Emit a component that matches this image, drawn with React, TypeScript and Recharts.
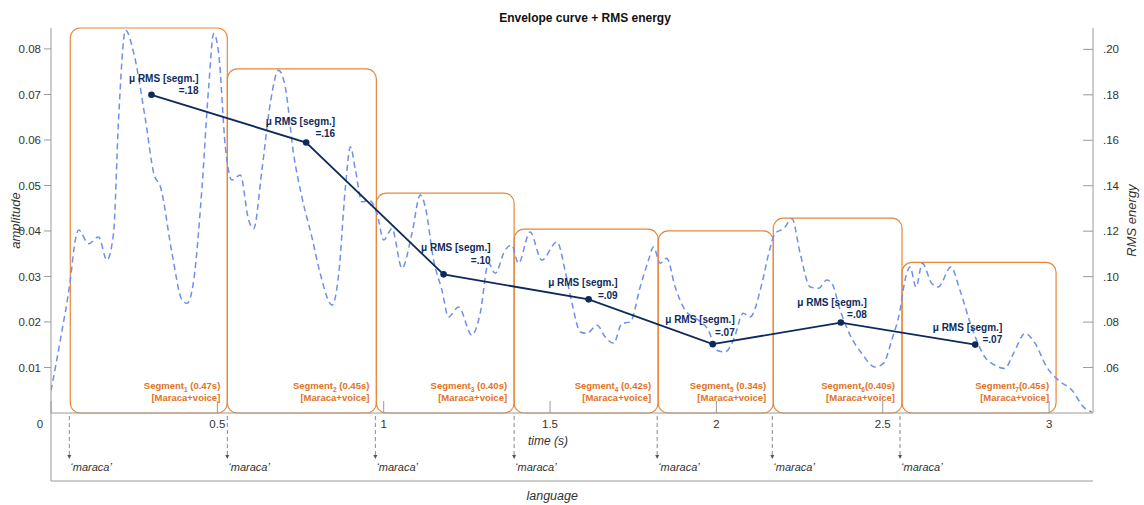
import React from 'react';
import { ComposedChart, Line, XAxis, YAxis, ReferenceArea } from 'recharts';

// ---------- data ----------
const envTime = [
  0, 0.028, 0.058, 0.073, 0.083, 0.113, 0.143, 0.168, 0.188, 0.203, 0.224, 0.249, 0.284, 0.309, 0.329,
  0.364, 0.394, 0.409, 0.429, 0.454, 0.474, 0.489, 0.504, 0.524, 0.544, 0.569, 0.594, 0.609, 0.634,
  0.659, 0.684, 0.704, 0.729, 0.754, 0.784, 0.809, 0.845, 0.865, 0.885, 0.9, 0.915, 0.935, 0.955,
  0.98, 1.0, 1.025, 1.055, 1.085, 1.11, 1.125, 1.15, 1.175, 1.195, 1.225, 1.265, 1.29, 1.315, 1.335,
  1.365, 1.385, 1.405, 1.44, 1.475, 1.521, 1.546, 1.566, 1.591, 1.611, 1.641, 1.666, 1.691, 1.716,
  1.741, 1.771, 1.796, 1.811, 1.831, 1.851, 1.876, 1.906, 1.946, 1.976, 2.001, 2.026, 2.051, 2.081,
  2.101, 2.137, 2.157, 2.177, 2.202, 2.227, 2.252, 2.282, 2.307, 2.332, 2.347, 2.372, 2.402, 2.437,
  2.477, 2.502, 2.527, 2.552, 2.567, 2.582, 2.6, 2.619, 2.647, 2.667, 2.705, 2.732, 2.767, 2.807,
  2.837, 2.867, 2.893, 2.928, 2.958, 2.993, 3.028, 3.069, 3.104, 3.129,
];
const envAmp = [
  0.0049, 0.016, 0.0292, 0.038, 0.0402, 0.0372, 0.0387, 0.0336, 0.0395, 0.0644, 0.0841, 0.079, 0.0644, 0.0526, 0.0497,
  0.035, 0.0248, 0.0241, 0.0292, 0.0497, 0.0717, 0.0834, 0.079, 0.0585, 0.0512, 0.0523, 0.0424, 0.0405, 0.0534,
  0.068, 0.0753, 0.0717, 0.057, 0.0475, 0.0387, 0.0307, 0.0237, 0.0307, 0.0497, 0.0585, 0.0534, 0.0464, 0.0468,
  0.0438, 0.038, 0.0405, 0.0318, 0.0395, 0.0479, 0.0453, 0.0336, 0.027, 0.0211, 0.0233, 0.0171, 0.0219, 0.0329, 0.0307,
  0.0358, 0.0369, 0.0329, 0.0398, 0.0336, 0.0376, 0.031, 0.0241, 0.0178, 0.0175, 0.0193, 0.0167, 0.0153, 0.0197,
  0.02, 0.0277, 0.0336, 0.0365, 0.0329, 0.034, 0.0277, 0.0226, 0.0204, 0.0182, 0.0138, 0.0134, 0.016, 0.0219,
  0.0211, 0.0285, 0.035, 0.0395, 0.0405, 0.0427, 0.035, 0.0277, 0.0274, 0.0292, 0.0285, 0.0226, 0.0171, 0.0131,
  0.0101, 0.0109, 0.016, 0.0226, 0.0292, 0.0321, 0.0277, 0.0329, 0.0285, 0.0277, 0.0321, 0.027, 0.0189, 0.0123,
  0.0105, 0.0098, 0.0131, 0.0175, 0.0153, 0.0101, 0.0072, 0.005, 0.0013, 0.0002,
];

const rmsTime = [0.302, 0.767, 1.18, 1.616, 1.989, 2.374, 2.778];
const rmsValue = [0.18, 0.159, 0.101, 0.09, 0.0703, 0.0798, 0.0701];
const rmsText = ['=.18', '=.16', '=.10', '=.09', '=.07', '=.08', '=.07'];
const rmsName = 'μ RMS [segm.]';

const segStart = [0.058, 0.53, 0.978, 1.392, 1.825, 2.171, 2.558];
const segEnd = [0.53, 0.978, 1.392, 1.825, 2.171, 2.558, 3.021];
const segTop = [0.0846, 0.0756, 0.0483, 0.0404, 0.04, 0.0428, 0.0331];
const segNum = ['1', '2', '3', '4', '5', '6', '7'];
const segDur = [' (0.47s)', ' (0.45s)', ' (0.40s)', ' (0.42s)', ' (0.34s)', '(0.40s)', '(0.45s)'];
const segSource = '[Maraca+voice]';

const eventTime = [0.055, 0.53, 0.975, 1.392, 1.822, 2.168, 2.552];
const eventName = '‘maraca’';

const xTicks = [0, 0.5, 1, 1.5, 2, 2.5, 3];
const ampTicks = [0.01, 0.02, 0.03, 0.04, 0.05, 0.06, 0.07, 0.08];
const rmsTicks = [0.06, 0.08, 0.1, 0.12, 0.14, 0.16, 0.18, 0.2];

const chartTitle = 'Envelope curve + RMS energy';

// ---------- layout / style ----------
const W = 1144;
const H = 505;
const FONT = '"Liberation Sans", Arial, Helvetica, sans-serif';
const GRID = '#9a9a9a';
const TXT = '#333333';
const NAVY = '#0e2a5c';
const ORANGE_LINE = '#e8873a';
const ORANGE_TXT = '#e2731f';
const BLUE = '#6f8fe8';

// label offsets around each RMS point (dx of right edge, dy of first line baseline)
const rmsLabelOffset = [
  [47, -13], [29, -18], [47, -23], [29, -13], [22, -21], [26, -17], [27, -14],
];

const envData = envTime.map((t, i) => ({ t, amp: envAmp[i] }));
const rmsData = rmsTime.map((t, i) => ({ t, rms: rmsValue[i] }));
const bottomTicks = [...xTicks, ...eventTime].sort((a, b) => a - b);
const isEvent = (v: number) => eventTime.some((e) => Math.abs(e - v) < 1e-9);

const BottomTick = (props: any) => {
  const { x, y, payload } = props;
  const v = payload.value;
  if (isEvent(v)) {
    return (
      <g>
        <line x1={x} y1={y + 3} x2={x} y2={y + 42} stroke="#8a8a8a" strokeWidth={1} strokeDasharray="4 3" />
        <path d={`M ${x - 2} ${y + 42} L ${x + 2} ${y + 42} L ${x} ${y + 46} Z`} fill="#555" />
        <text x={x + 1} y={y + 58} textAnchor="start" fontSize={11} fontStyle="italic" fill={TXT} fontFamily={FONT}>
          {eventName}
        </text>
      </g>
    );
  }
  return (
    <g>
      <line x1={x} y1={y} x2={x} y2={y - 12} stroke={GRID} strokeWidth={1} />
      <text x={v === 0 ? x - 11 : x} y={y + 15} textAnchor="middle" fontSize={11.5} fill={TXT} fontFamily={FONT}>
        {String(v)}
      </text>
    </g>
  );
};

const TopTick = (props: any) => {
  const { x, y } = props;
  return <line x1={x} y1={y} x2={x} y2={y + 11} stroke={GRID} strokeWidth={1} />;
};

const RightTick = (props: any) => {
  const { x, y, payload } = props;
  const label = payload.value.toFixed(2).replace(/^0/, '');
  return (
    <g>
      <line x1={x - 10} y1={y} x2={x} y2={y} stroke={GRID} strokeWidth={1} />
      <text x={x + 10} y={y + 4} textAnchor="start" fontSize={11.5} fill={TXT} fontFamily={FONT}>
        {label}
      </text>
    </g>
  );
};

const BottomLabel = (props: any) => {
  const vb = props.viewBox || {};
  const x0 = vb.x;
  const y0 = vb.y;
  const x1 = vb.x + vb.width;
  return (
    <g>
      <polyline points={`${x0},${y0} ${x0},${y0 + 68} ${x1},${y0 + 68}`} fill="none" stroke={GRID} strokeWidth={1} />
      <text x={x0 + vb.width * 0.477} y={y0 + 32} textAnchor="middle" fontSize={12} fontStyle="italic" fill={TXT} fontFamily={FONT}>
        time (s)
      </text>
      <text x={x0 + vb.width * 0.481} y={y0 + 87} textAnchor="middle" fontSize={12.5} fontStyle="italic" fill={TXT} fontFamily={FONT}>
        language
      </text>
    </g>
  );
};

const LeftTitle = (props: any) => {
  const vb = props.viewBox || {};
  const cx = 17;
  const cy = vb.y + vb.height * 0.5;
  const plotLeft = vb.x + vb.width;
  return (
    <g>
      <text x={cx} y={cy} transform={`rotate(-90 ${cx} ${cy})`} textAnchor="middle" dominantBaseline="middle" fontSize={13} fontStyle="italic" fill={TXT} fontFamily={FONT}>
        amplitude
      </text>
      <text x={plotLeft + 534} y={vb.y - 6} textAnchor="middle" fontSize={12} fontWeight="bold" fill="#111" fontFamily={FONT}>
        {chartTitle}
      </text>
    </g>
  );
};

const RightTitle = (props: any) => {
  const vb = props.viewBox || {};
  const cx = 1133;
  const cy = vb.y + vb.height * 0.5;
  return (
    <text x={cx} y={cy} transform={`rotate(-90 ${cx} ${cy})`} textAnchor="middle" dominantBaseline="middle" fontSize={13} fontStyle="italic" fill={TXT} fontFamily={FONT}>
      RMS energy
    </text>
  );
};

const makeSegShape = (i: number) => (p: any) => {
  const { x, y, width, height } = p;
  const right = x + width;
  const bottom = y + height;
  return (
    <g>
      <rect x={x} y={y} width={width} height={height} rx={10} ry={10} fill="none" stroke={ORANGE_LINE} strokeWidth={1.2} />
      <text x={right - 7} y={bottom - 24} textAnchor="end" fontSize={9.5} fontWeight="bold" fill={ORANGE_TXT} fontFamily={FONT}>
        Segment
        <tspan fontSize={6.5} dy={3}>{segNum[i]}</tspan>
        <tspan dy={-3}>{segDur[i]}</tspan>
      </text>
      <text x={right - 7} y={bottom - 12.5} textAnchor="end" fontSize={9.5} fontWeight="bold" fill={ORANGE_TXT} fontFamily={FONT}>
        {segSource}
      </text>
    </g>
  );
};

const RmsDot = (p: any) => {
  const { cx, cy, index } = p;
  if (cx == null || cy == null) return <g key={`d${index}`} />;
  const [dx, dy] = rmsLabelOffset[index] || [30, -16];
  return (
    <g key={`d${index}`}>
      <circle cx={cx} cy={cy} r={3.3} fill={NAVY} />
      <text x={cx + dx} y={cy + dy} textAnchor="end" fontSize={10} fontWeight="bold" fill={NAVY} fontFamily={FONT}>
        {rmsName}
      </text>
      <text x={cx + dx} y={cy + dy + 12.5} textAnchor="end" fontSize={10} fontWeight="bold" fill={NAVY} fontFamily={FONT}>
        {rmsText[index]}
      </text>
    </g>
  );
};

export default function App() {
  return (
    <div style={{ position: 'absolute', left: 0, top: 0, width: W, height: H, background: '#fff', fontFamily: FONT }}>
      <ComposedChart width={W} height={H} margin={{ top: 28, right: 0, bottom: 0, left: 0 }}>
        <XAxis
          xAxisId="b"
          dataKey="t"
          type="number"
          domain={[0, 3.132]}
          allowDataOverflow
          ticks={bottomTicks}
          interval={0}
          tickSize={0}
          tickMargin={0}
          height={92}
          axisLine={{ stroke: GRID }}
          tickLine={false}
          tick={<BottomTick />}
          label={<BottomLabel />}
        />
        <XAxis
          xAxisId="t"
          orientation="top"
          dataKey="t"
          type="number"
          domain={[0, 3.132]}
          allowDataOverflow
          ticks={xTicks}
          interval={0}
          tickSize={0}
          tickMargin={0}
          height={0}
          axisLine={{ stroke: GRID }}
          tickLine={false}
          tick={<TopTick />}
        />
        <YAxis
          yAxisId="l"
          orientation="left"
          type="number"
          domain={[0, 0.0846]}
          allowDataOverflow
          ticks={ampTicks}
          interval={0}
          width={51}
          tickSize={7}
          tickMargin={3}
          axisLine={{ stroke: GRID }}
          tickLine={{ stroke: GRID }}
          tick={{ fontSize: 11.5, fill: TXT, fontFamily: FONT }}
          tickFormatter={(v: number) => v.toFixed(2)}
          label={<LeftTitle />}
        />
        <YAxis
          yAxisId="r"
          orientation="right"
          type="number"
          domain={[0.04, 0.2094]}
          allowDataOverflow
          ticks={rmsTicks}
          interval={0}
          width={51}
          tickSize={0}
          tickMargin={0}
          axisLine={{ stroke: GRID }}
          tickLine={false}
          tick={<RightTick />}
          label={<RightTitle />}
        />
        {segStart.map((s, i) => (
          <ReferenceArea
            key={`seg${i}`}
            xAxisId="b"
            yAxisId="l"
            x1={s}
            x2={segEnd[i]}
            y1={0}
            y2={segTop[i]}
            ifOverflow="visible"
            shape={makeSegShape(i)}
          />
        ))}
        <Line
          data={envData}
          xAxisId="b"
          yAxisId="l"
          dataKey="amp"
          type="monotone"
          stroke={BLUE}
          strokeWidth={1.5}
          strokeDasharray="6 4"
          dot={false}
          activeDot={false}
          isAnimationActive={false}
        />
        <Line
          data={rmsData}
          xAxisId="t"
          yAxisId="r"
          dataKey="rms"
          type="linear"
          stroke={NAVY}
          strokeWidth={1.8}
          dot={(p: any) => <RmsDot {...p} />}
          activeDot={false}
          isAnimationActive={false}
        />
      </ComposedChart>
    </div>
  );
}
